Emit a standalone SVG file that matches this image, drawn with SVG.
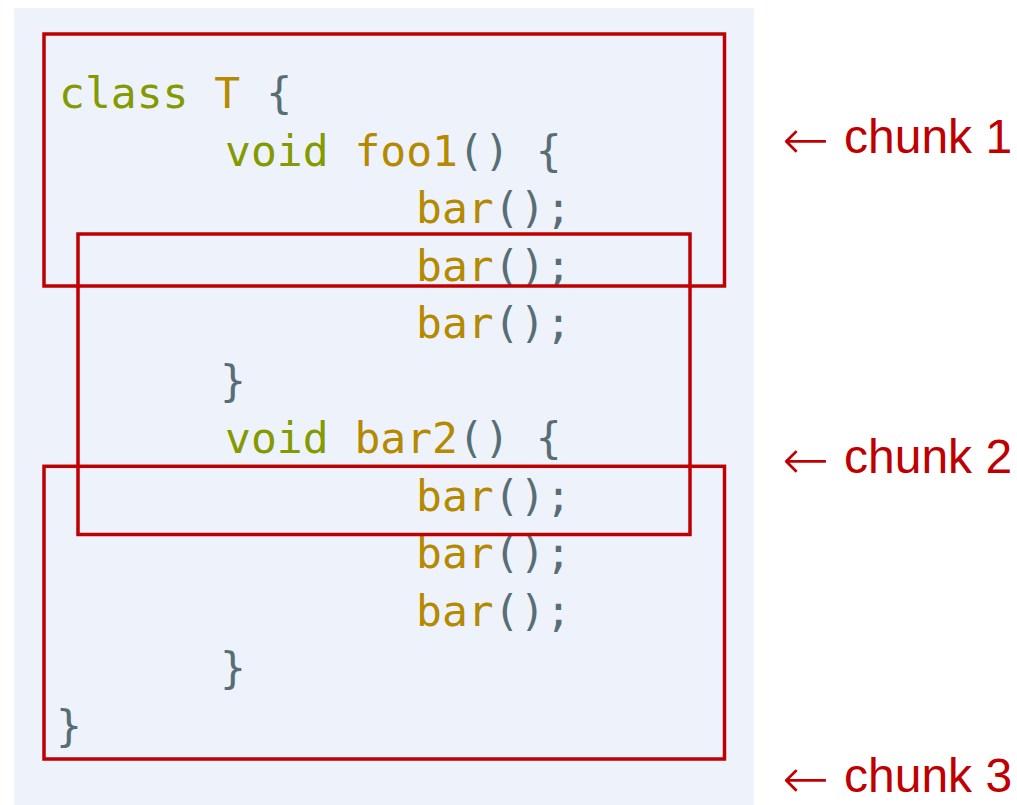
<svg xmlns="http://www.w3.org/2000/svg" width="1017" height="805" viewBox="0 0 1017 805">
  <defs>
    <style>
      .code { font-family: "DejaVu Sans Mono", "Liberation Mono", monospace; font-size: 43px; }
      .kw { fill: #859900; }
      .id { fill: #b58900; }
      .pn { fill: #586e75; }
      .box { fill: none; stroke: #c00000; stroke-width: 3.5; }
      .lbl { font-family: "Liberation Sans", Arial, sans-serif; font-size: 48px; fill: #c00000; }
      .arr { font-family: "DejaVu Sans", sans-serif; font-weight: 200; font-size: 56px; fill: #c00000; }
    </style>
  </defs>
  <rect x="0" y="0" width="1017" height="805" fill="#ffffff"/>
  <rect id="panel" x="14" y="8" width="740" height="797" fill="#eef3fb"/>

  <g id="code" class="code" xml:space="preserve">
    <text x="59" y="108"><tspan class="kw">class</tspan> <tspan class="id">T</tspan> <tspan class="pn">{</tspan></text>
    <text x="225" y="165.5"><tspan class="kw">void</tspan> <tspan class="id">foo1</tspan><tspan class="pn">() {</tspan></text>
    <text x="416" y="223"><tspan class="id">bar</tspan><tspan class="pn">();</tspan></text>
    <text x="416" y="280.5"><tspan class="id">bar</tspan><tspan class="pn">();</tspan></text>
    <text x="416" y="338"><tspan class="id">bar</tspan><tspan class="pn">();</tspan></text>
    <text x="220" y="395.5" class="pn">}</text>
    <text x="225" y="453"><tspan class="kw">void</tspan> <tspan class="id">bar2</tspan><tspan class="pn">() {</tspan></text>
    <text x="416" y="510.5"><tspan class="id">bar</tspan><tspan class="pn">();</tspan></text>
    <text x="416" y="568"><tspan class="id">bar</tspan><tspan class="pn">();</tspan></text>
    <text x="416" y="625.5"><tspan class="id">bar</tspan><tspan class="pn">();</tspan></text>
    <text x="220" y="683" class="pn">}</text>
    <text x="56" y="740.5" class="pn">}</text>
  </g>

  <g id="chunk1">
    <rect class="box" x="44" y="34" width="680.5" height="252"/>
    <text class="arr" x="782" y="159">←</text>
    <text class="lbl" x="844" y="153">chunk 1</text>
  </g>
  <g id="chunk2">
    <rect class="box" x="78" y="234" width="612" height="300.5"/>
    <text class="arr" x="782" y="479">←</text>
    <text class="lbl" x="844" y="473">chunk 2</text>
  </g>
  <g id="chunk3">
    <rect class="box" x="44" y="466.3" width="680.5" height="292.7"/>
    <text class="arr" x="782" y="798">←</text>
    <text class="lbl" x="844" y="792">chunk 3</text>
  </g>
  <g id="connectors"/>
</svg>
